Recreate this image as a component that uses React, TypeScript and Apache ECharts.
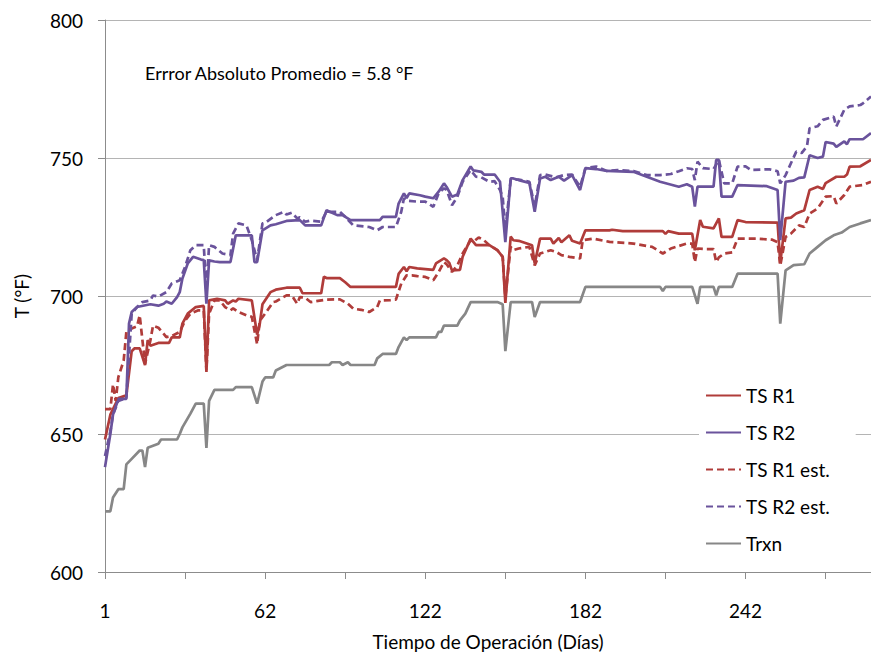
import React, { useEffect, useRef } from "react";
import * as echarts from "echarts";

// x positions (category index); day labels shown every 60 positions
const xCount = 288;
const categories = Array.from({ length: xCount }, (_, i) => String(i));
const dayLabels = ["1", "62", "122", "182", "242"];

const yTicks = { min: 600, max: 800, interval: 50 };

// [category index, °F]
const tsR1: [number, number][] = [
  [0, 648], [2, 657], [4, 661], [5, 663], [8, 664], [10, 680], [11, 681], [13, 681], [15, 675], [16, 684],
  [17, 682], [20, 683], [24, 683], [25, 685], [28, 685], [29, 690], [31, 693.6], [34, 696], [37, 696.4],
  [38, 673], [39, 698.4], [42, 699], [45, 698.4], [46, 697.2], [48, 698.4], [49, 698], [50, 699], [55, 698.4],
  [57, 686], [58, 690], [59, 697], [62, 701.4], [64, 702.3], [68, 703], [73, 703], [74, 701], [81, 701],
  [82, 707], [83, 706.5], [88, 706.5], [90, 705], [92, 703.3], [109, 703.3], [110, 708], [112, 710.5],
  [113, 709], [114, 710.5], [117, 710], [123, 709.5], [124, 711.8], [127, 713.6], [128, 713], [129, 712],
  [130, 709.3], [133, 709.5], [134, 714.2], [137, 720.8], [139, 718.4], [144, 718.4], [147, 716.6],
  [149, 714.2], [150, 697.5], [152, 721.5], [153, 720.2], [155, 720], [160, 718.4], [161, 711.8],
  [163, 720.8], [167, 720.8], [168, 719], [170, 721], [171, 719.5], [174, 722], [175, 720], [178, 719],
  [180, 723.8], [189, 723.8], [190, 724], [194, 723.5], [209, 723.5], [210, 722.5], [211, 723.5],
  [215, 722.6], [220, 722.6], [221, 716.6], [223, 727.5], [224, 725.1], [228, 724.5], [230, 728.1],
  [231, 721.4], [235, 721.4], [237, 727.5], [240, 726.8], [252, 726.6], [253, 712], [255, 728.1],
  [257, 728.4], [259, 729.9], [262, 731.1], [264, 738.4], [267, 739.6], [269, 738.8], [270, 740.9],
  [274, 743.2], [277, 743.2], [278, 744], [279, 746.9], [283, 747], [287, 749.3],
];

const tsR2: [number, number][] = [
  [0, 638], [2, 650], [3, 657], [5, 662.7], [8, 662.7], [9, 690], [10, 694.2], [12, 696], [17, 697],
  [20, 696.5], [22, 697.2], [23, 698], [25, 697.2], [27, 699.6], [28, 701.4], [29, 706.3], [31, 711.8],
  [33, 714.2], [36, 713.2], [37, 713], [38, 697.2], [39, 712.9], [41, 712.5], [43, 712.3], [47, 712.3],
  [49, 722], [55, 722], [56, 712.3], [57, 712.3], [59, 723.8], [62, 725.6], [64, 726], [68, 727.2],
  [73, 727.5], [75, 725.6], [81, 725.6], [83, 731.1], [87, 729.3], [89, 729.3], [92, 727.5], [103, 727.5],
  [104, 728.7], [109, 728.7], [110, 733.5], [112, 737.2], [113, 735.5], [114, 737.2], [118, 736.5],
  [120, 736], [123, 735.4], [125, 737.8], [127, 740.8], [128, 739.5], [130, 736], [132, 736.8], [134, 742],
  [137, 746.9], [138, 745.5], [141, 745], [142, 744], [146, 744], [148, 741.4], [150, 719.5], [152, 742.6],
  [153, 742.6], [155, 742], [159, 741], [161, 730.5], [163, 742.6], [165, 743.2], [167, 742], [170, 743.2],
  [172, 741.8], [175, 743.8], [178, 738.4], [180, 746.3], [184, 746], [188, 745.3], [198, 745],
  [208, 741.4], [215, 739.6], [218, 740.5], [220, 739.6], [221, 732.4], [222, 739.6], [228, 739.6],
  [229, 749.3], [230, 749.3], [231, 736], [235, 736], [237, 740.2], [248, 739.8], [252, 738.4],
  [253, 720.2], [255, 741.4], [258, 741.8], [260, 742.8], [262, 743], [264, 751], [267, 750], [269, 750.5],
  [270, 755.8], [273, 755.2], [274, 754], [277, 756], [278, 755], [279, 756.8], [284, 756.8], [287, 759],
];

const tsR1Est: [number, number][] = [
  [0, 659], [2, 659], [3, 668], [4, 662], [5, 670.6], [7, 676.6], [8, 687], [10, 688.2], [12, 689],
  [13, 693], [15, 675.4], [17, 683.9], [18, 689.3], [20, 688.5], [22, 686.3], [23, 685.1], [25, 685.5],
  [28, 687], [30, 691.1], [32, 693.6], [35, 694.8], [37, 694.8], [38, 672.5], [39, 693.6], [41, 698.4],
  [43, 698.4], [45, 696], [47, 694.8], [48, 695.5], [50, 694.2], [53, 693], [55, 692.5], [57, 682.5],
  [58, 691.1], [60, 693.6], [63, 697.8], [64, 698], [68, 700.2], [70, 700.2], [72, 697.2], [73, 699.6],
  [75, 699.4], [77, 697.8], [83, 698.7], [88, 698.8], [91, 697.2], [93, 695.4], [96, 695], [99, 694.2],
  [102, 696], [103, 698.4], [107, 698.5], [109, 698.7], [111, 704.5], [113, 707.5], [115, 707.5],
  [117, 707.2], [120, 706.9], [123, 705.7], [125, 708.7], [127, 712.3], [128, 711.5], [130, 708.7],
  [132, 711], [134, 715.4], [137, 720.2], [138, 719.6], [140, 721.2], [142, 720.2], [144, 718.4],
  [147, 716.6], [149, 714.2], [150, 699.6], [152, 717.8], [153, 716.6], [155, 717.2], [159, 717.8],
  [161, 711.1], [163, 715.4], [167, 716.6], [169, 716], [171, 714.8], [174, 714.2], [178, 713.6],
  [179, 720.2], [183, 720.8], [189, 719.6], [198, 719], [205, 717.8], [209, 715.4], [212, 717.2],
  [218, 719], [220, 719], [221, 712.3], [222, 717.2], [225, 717], [228, 717], [229, 712.3], [230, 714],
  [232, 715.4], [235, 715.8], [237, 720.8], [244, 720.8], [250, 720.4], [252, 719.5], [253, 711],
  [255, 721.4], [257, 722.6], [260, 725.6], [262, 725], [264, 729.9], [267, 731.7], [270, 736],
  [273, 736.2], [274, 733.5], [277, 736.6], [279, 739.6], [284, 740.2], [287, 741.4],
];

const tsR2Est: [number, number][] = [
  [0, 642], [2, 651], [3, 657], [5, 662], [8, 663], [10, 693.6], [12, 696], [14, 697.8], [17, 698.4],
  [18, 700.2], [20, 699.8], [23, 701.4], [25, 704.5], [28, 705.7], [30, 710.5], [32, 716.6], [34, 718.4],
  [37, 718.4], [38, 702], [39, 718.4], [41, 717.8], [44, 715.4], [47, 714.8], [48, 722.6], [50, 726.3],
  [53, 725.6], [55, 720.2], [57, 713], [59, 726.3], [60, 726.5], [64, 729.3], [67, 730.5], [68, 729.5],
  [70, 730.2], [72, 728.1], [73, 728.5], [75, 726.9], [77, 727.3], [81, 726.9], [83, 730.5], [88, 730.5],
  [90, 728.7], [93, 725.6], [99, 725], [102, 723.8], [104, 725], [109, 725], [111, 730.5], [112, 735.4],
  [113, 734.5], [117, 734.2], [120, 734.2], [123, 732.3], [125, 737.2], [127, 739], [128, 738.5],
  [130, 732.9], [132, 735.9], [134, 741.4], [137, 745.6], [139, 743.2], [141, 743], [144, 741.4],
  [146, 741.6], [148, 738.4], [149, 735.9], [150, 723.8], [152, 742], [155, 742.2], [159, 741.4],
  [161, 732.4], [163, 743.8], [165, 744], [169, 743], [172, 743.8], [175, 744], [178, 739.6],
  [180, 746.3], [184, 746.9], [188, 745.3], [192, 745.6], [198, 745.3], [203, 743.8], [208, 743.8],
  [212, 744.2], [215, 745.2], [218, 746.3], [220, 746], [221, 742], [222, 748.7], [224, 746.3],
  [228, 746], [230, 749.3], [232, 740.8], [235, 740.8], [237, 746.9], [240, 747], [242, 745.7],
  [249, 745.9], [252, 745.2], [253, 740.8], [255, 743.8], [257, 748.1], [259, 752.3], [261, 751.8],
  [263, 754.2], [264, 760.8], [267, 761.5], [269, 763.8], [273, 765], [274, 761.4], [277, 767.5],
  [279, 768.7], [283, 769.2], [284, 769.8], [287, 772.3],
];

const trxn: [number, number][] = [
  [0, 622], [2, 622], [3, 627], [5, 630], [7, 630], [8, 639], [10, 641], [13, 644], [14, 644], [15, 638],
  [16, 645], [20, 646.5], [21, 648], [27, 648], [28, 650], [29, 652.4], [32, 657.4], [34, 661], [37, 661],
  [38, 645], [39, 662], [41, 666], [48, 666], [49, 667], [55, 667], [57, 661], [59, 669], [60, 670.5],
  [63, 670.5], [64, 673], [68, 675], [84, 675], [85, 676], [88, 676], [89, 675], [91, 676], [92, 675],
  [101, 675], [102, 677.4], [104, 679], [109, 679], [110, 681.5], [112, 685], [113, 684], [114, 685],
  [124, 685], [125, 687], [126, 687], [127, 689.3], [132, 689.3], [133, 691.2], [135, 693.6], [137, 697.8],
  [147, 697.8], [149, 697], [150, 680], [152, 697.8], [160, 697.8], [161, 692.4], [163, 697.8],
  [178, 697.8], [180, 703.3], [208, 703.3], [209, 701.8], [210, 703.3], [220, 703.3], [222, 697.2],
  [223, 703.3], [228, 703.3], [229, 700.2], [230, 703.3], [235, 703.3], [237, 708.1], [252, 708.1],
  [253, 690], [255, 709.3], [258, 711.2], [262, 711.5], [264, 715.4], [267, 717.8], [270, 720.2],
  [273, 722], [276, 723], [279, 725], [283, 726.3], [287, 727.5],
];

const seriesNames = ["TS R1", "TS R2", "TS R1 est.", "TS R2 est.", "Trxn"];
const annotation = "Errror Absoluto Promedio = 5.8 °F";

const RED = "#B03C3A";
const PURPLE = "#6A539C";
const GRAY = "#878787";
const FONT = "Lato, 'Open Sans', sans-serif";

export default function App() {
  const ref = useRef<HTMLDivElement>(null);
  useEffect(() => {
    if (!ref.current) return;
    const chart = echarts.init(ref.current, undefined, { renderer: "svg" });
    const mk = (name: string, data: [number, number][], color: string, dashed: boolean) => ({
      name,
      type: "line",
      data,
      showSymbol: false,
      symbol: "none",
      lineStyle: { color, width: 2.7, type: dashed ? [7, 4] : "solid" },
      itemStyle: { color },
      emphasis: { disabled: true },
    });
    chart.setOption({
      animation: false,
      textStyle: { fontFamily: FONT },
      grid: { left: 105, right: 0, top: 20, bottom: 84, containLabel: false },
      legend: {
        orient: "vertical",
        left: 699,
        top: 380,
        backgroundColor: "#fff",
        padding: [4, 26, 4, 6],
        itemWidth: 35,
        itemHeight: 12,
        itemGap: 14,
        itemStyle: { opacity: 0 },
        textStyle: { fontSize: 19, color: "#000", fontFamily: FONT, lineHeight: 23 },
        data: seriesNames,
      },
      graphic: [
        {
          type: "text",
          left: 145,
          top: 64,
          style: { text: annotation, font: `18px ${FONT}`, fill: "#000" },
        },
      ],
      xAxis: {
        type: "category",
        data: categories,
        boundaryGap: false,
        name: "Tiempo de Operación (Días)",
        nameLocation: "middle",
        nameGap: 60,
        nameTextStyle: { fontSize: 19, color: "#000", fontFamily: FONT },
        axisLine: { lineStyle: { color: "#8C8C8C", width: 1 } },
        axisTick: { interval: 29, length: 7, lineStyle: { color: "#8C8C8C" } },
        axisLabel: {
          interval: 59,
          margin: 29,
          fontSize: 19,
          color: "#000",
          fontFamily: FONT,
          formatter: (_v: string, i: number) => dayLabels[Math.round(i / 60)] ?? "",
        },
        splitLine: { show: false },
      },
      yAxis: {
        type: "value",
        min: yTicks.min,
        max: yTicks.max,
        interval: yTicks.interval,
        name: "T (°F)",
        nameLocation: "middle",
        nameGap: 74,
        nameTextStyle: { fontSize: 19, color: "#000", fontFamily: FONT },
        axisLine: { show: true, lineStyle: { color: "#8C8C8C", width: 1 } },
        axisTick: { show: true, length: 7, lineStyle: { color: "#8C8C8C" } },
        axisLabel: { margin: 22, fontSize: 19, color: "#000", fontFamily: FONT },
        splitLine: { show: true, lineStyle: { color: "#B4B4B4", width: 1 } },
      },
      series: [
        mk(seriesNames[0], tsR1, RED, false),
        mk(seriesNames[1], tsR2, PURPLE, false),
        mk(seriesNames[2], tsR1Est, RED, true),
        mk(seriesNames[3], tsR2Est, PURPLE, true),
        mk(seriesNames[4], trxn, GRAY, false),
      ],
    });
    return () => chart.dispose();
  }, []);
  return (
    <div
      ref={ref}
      style={{ position: "fixed", left: 0, top: 0, width: 871, height: 656, background: "#fff" }}
    />
  );
}
